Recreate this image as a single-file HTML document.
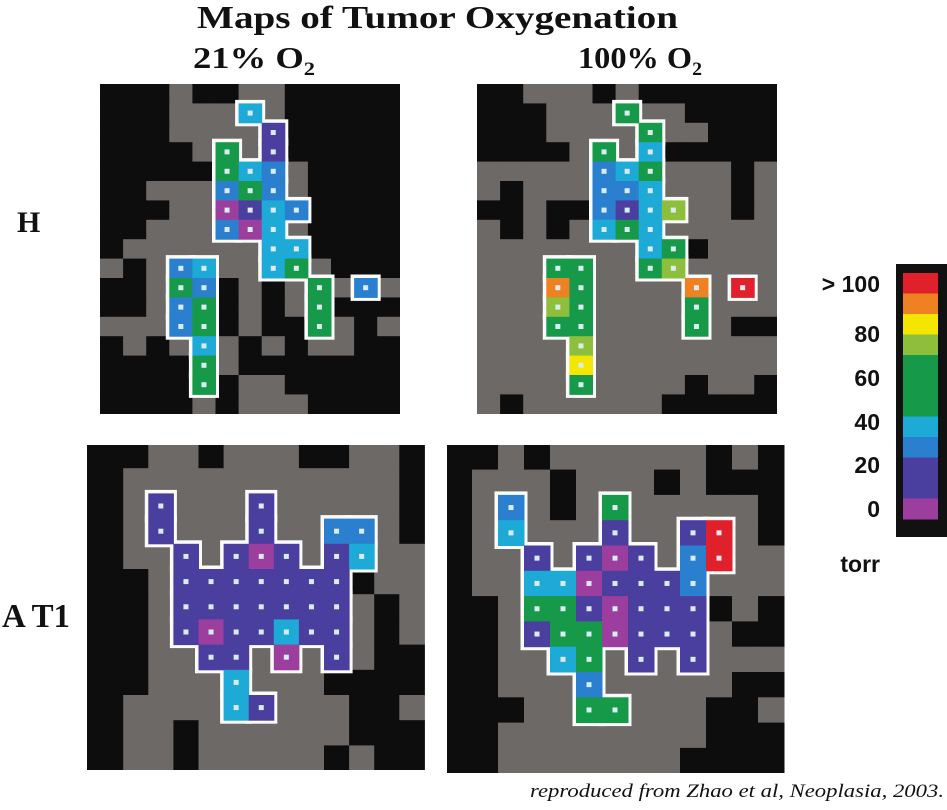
<!DOCTYPE html>
<html><head><meta charset="utf-8">
<style>
html,body{margin:0;padding:0;background:#fff;}
svg{display:block;}
.t{font-family:"Liberation Serif",serif;font-weight:bold;fill:#111;}
.s{font-family:"Liberation Sans",sans-serif;font-weight:bold;fill:#111;}
</style></head>
<body>
<svg id="fig" width="947" height="810" viewBox="0 0 947 810" xmlns="http://www.w3.org/2000/svg">
<text class="t" x="197" y="28" font-size="32" textLength="481" lengthAdjust="spacingAndGlyphs">Maps  of Tumor Oxygenation</text>
<text class="t" x="193" y="68" font-size="31" textLength="122" lengthAdjust="spacingAndGlyphs">21% O<tspan font-size="19" dy="7">2</tspan></text>
<text class="t" x="578" y="68" font-size="31" textLength="124" lengthAdjust="spacingAndGlyphs">100% O<tspan font-size="19" dy="7">2</tspan></text>
<text class="t" x="17" y="232" font-size="30">H</text>
<text class="t" x="2" y="627" font-size="34" textLength="68" lengthAdjust="spacingAndGlyphs">A T1</text>
<g id="maps"></g>
<g id="cbar"></g>
<text x="944" y="797" font-family="Liberation Serif,serif" font-style="italic" font-size="19" text-anchor="end" textLength="414" lengthAdjust="spacingAndGlyphs" fill="#111">reproduced from Zhao et al, Neoplasia, 2003.</text>
</svg>
<script>
const gridH21 = ["KKKGKKGGKKKKK","KKKGGGcGKKKKK","KKKGGGGvKKKKK","KKKKGgGvKKKKK","KKKKKgcbGKKKK","KKGGGbgbGKKKK","KKKGGpvcbKKKK","KKGGGbpcGKKKK","KGGGGGGccKKKK","GKGbcGGcgGKKK","KKGgbKGKGgGbG","KKGbgKGKGgKKK","GGGbgKGKKgGKG","KGKGcGKGKGGKK","KKKKgGKKKKKKK","KKKKgKGGKKKKK","KKKKGKGGGKKKK"];
const gridH100 = ["KKGGGKGKKKKKK","KKKGGGgGGKKKK","KKKGGGGgGGKKK","KKKKGgGcKKKKK","GGGGGbcgGGGKG","GKGGGbbcGGGKG","KKGKKbvclGGKG","GKGKGcgcGGGGG","GGGGGGGcgKGGG","GGGggGGglGGGG","GGGogGGGGoGrG","GGGlgGGGGgGGG","GGGggGGGGgGKK","GGGGlGGGGGGGG","GGGGyGGGGGGGG","GGGGgGGGGKGGK","GKGGGGGGKKKKK"];
const gridA21 = ["KKKGGKGGGKKGGK","KKGGGGGGGGGGGK","KKGvGGGvGGGGGK","KKGvGGGvGGbbGK","KKGGvGvpvGvcGG","KKKGvvvvvvvKGG","KKKGvvvvvvvGKG","KKKGvpvvcvvGKG","KKKGGvvGpGvGKK","KKKGGGcGGGKKKK","KKGGGGcvGGGKKG","KKGGKGGGGGGKKK","KKGGKGGGGGKGKK"];
const gridA100 = ["KKGKGGGGGGKGK","KGGGKGGGKGKKK","KGbGKGgGGGGGK","KGcGGGvGGvrGK","KGGvGvpvGbrGG","KGGccpvvvbGGG","KKGggvpvvvKGK","KKGvggpvvvGKK","KKGGcgGvGvGGG","KKGGGbGGGGGKK","KKKGGggGGGKKG","KKGGGGGGGGKKK","KKGGGGGGGKKKK"];
const cbarLabels = ["> 100","80","60","40","20","0"];
const cbarBands = ["r","o","y","l","g","g","g","c","b","v","v","p"];

const COL={K:"#0d0d0d",G:"#6d6966",p:"#9b3e9e",v:"#4a3f9e",b:"#2a80cf",c:"#1daad6",g:"#17994a",l:"#8dbf3c",y:"#f4e600",o:"#ee8122",r:"#e0202a"};
const NS="http://www.w3.org/2000/svg";
const maps=document.getElementById('maps');
function rect(p,x,y,w,h,f){const r=document.createElementNS(NS,'rect');r.setAttribute('x',x);r.setAttribute('y',y);r.setAttribute('width',w);r.setAttribute('height',h);r.setAttribute('fill',f);p.appendChild(r);return r;}
function panel(grid,name,x0,y0,cw,ch,clip){
  const g=document.createElementNS(NS,'g');
  
  
  const cpId='cp-'+name;
  const cp=document.createElementNS(NS,'clipPath');cp.setAttribute('id',cpId);
  rect(cp,clip[0],clip[1],clip[2]-clip[0],clip[3]-clip[1],'#000');
  maps.appendChild(cp);
  g.setAttribute('clip-path','url(#'+cpId+')');
  maps.appendChild(g);
  const colored=[];
  grid.forEach((row,ri)=>{[...row].forEach((k,ci)=>{
    const x=x0+ci*cw,y=y0+ri*ch;
    if(k==='K'||k==='G'){const c=rect(g,x,y,cw+0.5,ch+0.5,COL[k]);
      
      }
    else {rect(g,x,y,cw+0.5,ch+0.5,COL.G);colored.push([x,y,k]);}
  });});
  colored.forEach(([x,y])=>rect(g,x-3.5,y-3.5,cw+7,ch+7,'#fbfbfb'));
  colored.forEach(([x,y,k])=>{const c=rect(g,x,y,cw+0.5,ch+0.5,COL[k]);
    
    });
  colored.forEach(([x,y])=>rect(g,x+cw/2-2.5,y+ch/2-2.5,5,5,'#d9ecf2'));
}
panel(gridH21,'map-h-21',100,84,23.1,19.4,[100,84,400,414]);
panel(gridH100,'map-h-100',477,84,23.1,19.4,[477,84,777,414]);
panel(gridA21,'map-at1-21',73,443,25.1,25.2,[87,445,425,770]);
panel(gridA100,'map-at1-100',446,444.3,26,25.3,[447,445,785,773]);

const cb=document.getElementById('cbar');
rect(cb,896,264,51,273,'#111');
const cbTop=273,cbBot=519;
cbarBands.forEach((k,i)=>{const h=(cbBot-cbTop)/cbarBands.length;
  const r=rect(cb,903,cbTop+i*h,35,h+0.5,COL[k]);
  
  });
const ly=[292,342,386,430,473,517];
cbarLabels.forEach((t,i)=>{const e=document.createElementNS(NS,'text');
  e.setAttribute('class','s');e.setAttribute('x',880);e.setAttribute('y',ly[i]);
  e.setAttribute('font-size','23');e.setAttribute('text-anchor','end');e.textContent=t;
  
  
  cb.appendChild(e);});
const tu=document.createElementNS(NS,'text');tu.setAttribute('class','s');tu.setAttribute('x',880);tu.setAttribute('y',572);
tu.setAttribute('font-size','23');tu.setAttribute('text-anchor','end');tu.textContent='torr';


cb.appendChild(tu);
</script>
</body></html>
